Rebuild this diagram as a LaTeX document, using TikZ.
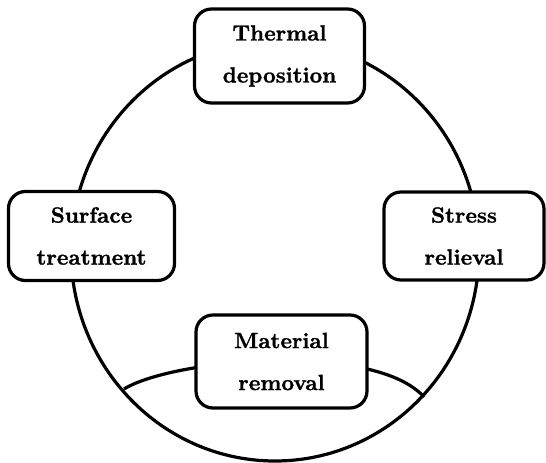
\documentclass[tikz,border=0pt]{standalone}
\usepackage{fontspec}
\newfontfamily\heavyfont[Extension=.otf, FakeBold=1.2]{lmroman10-bold}
\begin{document}
\begin{tikzpicture}[x=1pt,y=-1pt,
  stage/.style={draw=black, line width=3.2pt, fill=white, rounded corners=17pt,
    align=center, inner sep=0pt,
    font=\heavyfont\fontsize{22}{42}\selectfont},
  ring/.style={draw=black, line width=3.2pt}]
\useasboundingbox (0,0) rectangle (546,463);
% cycle ring and the bottom arc
\draw[ring] (275,251) ellipse [x radius=204pt, y radius=210pt];
\coordinate (arcL) at (124,389);
\coordinate (arcR) at (424,397);
\draw[ring] (arcL) .. controls (175,358) and (375,342) .. (arcR);
% stages
\node[stage, minimum width=170pt, minimum height=94pt] (thermal) at (279.5,56) {Thermal\\deposition};
\node[stage, minimum width=166pt, minimum height=89pt] (surface) at (91.5,236) {Surface\\treatment};
\node[stage, minimum width=160pt, minimum height=88pt] (stress) at (464,236) {Stress\\relieval};
\node[stage, minimum width=171pt, minimum height=93pt] (material) at (281.5,361.5) {Material\\removal};
\end{tikzpicture}
\end{document}
